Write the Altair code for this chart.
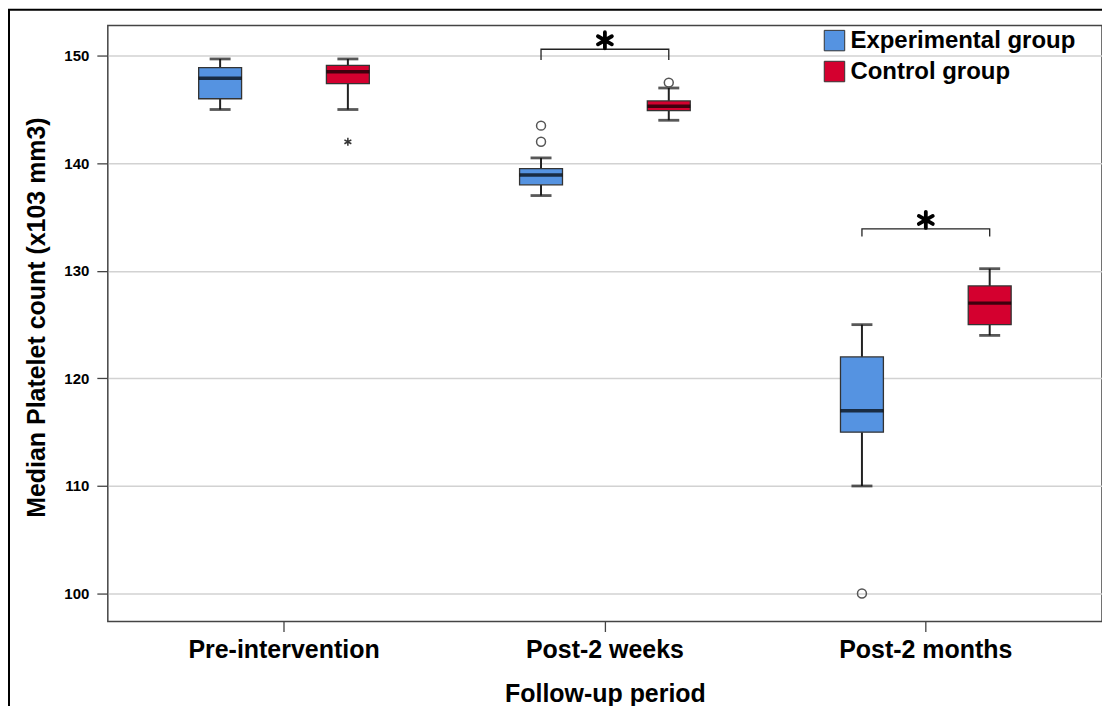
import altair as alt
import pandas as pd

FONT = "Liberation Sans, Arial, Helvetica, sans-serif"

periods = ["Pre-intervention", "Post-2 weeks", "Post-2 months"]
groups = ["Experimental group", "Control group"]
group_colors = ["#5593e1", "#d4002f"]

# box-plot summaries (x10^3 / mm3)
exp_lower = [145.0, 137.0, 110.0]
exp_q1 = [146.0, 138.0, 115.0]
exp_median = [147.9, 138.9, 117.0]
exp_q3 = [148.9, 139.5, 122.0]
exp_upper = [149.7, 140.5, 125.0]

ctl_lower = [145.0, 144.0, 124.0]
ctl_q1 = [147.4, 144.9, 125.0]
ctl_median = [148.5, 145.3, 127.0]
ctl_q3 = [149.1, 145.8, 128.6]
ctl_upper = [149.7, 147.0, 130.2]

# outliers (circles) and extremes (asterisks)
outlier_period = ["Post-2 weeks", "Post-2 weeks", "Post-2 weeks", "Post-2 months"]
outlier_group = ["Experimental group", "Experimental group", "Control group", "Experimental group"]
outlier_value = [143.5, 142.0, 147.5, 100.0]

extreme_period = ["Pre-intervention"]
extreme_group = ["Control group"]
extreme_value = [142.0]

# significance brackets
sig_period = ["Post-2 weeks", "Post-2 months"]
sig_top = [150.6, 133.9]
sig_bottom = [149.6, 133.2]

rows = []
for g, lo, q1, md, q3, up in [
    (groups[0], exp_lower, exp_q1, exp_median, exp_q3, exp_upper),
    (groups[1], ctl_lower, ctl_q1, ctl_median, ctl_q3, ctl_upper),
]:
    for i, p in enumerate(periods):
        rows.append(dict(period=p, group=g, lower=lo[i], q1=q1[i], median=md[i], q3=q3[i], upper=up[i]))
box_df = pd.DataFrame(rows)

out_df = pd.DataFrame(dict(period=outlier_period, group=outlier_group, value=outlier_value))
ext_df = pd.DataFrame(dict(period=extreme_period, group=extreme_group, value=extreme_value))

br_rows = []
for p, t, b in zip(sig_period, sig_top, sig_bottom):
    br_rows += [
        dict(period=p, group=groups[0], y=b, k=0),
        dict(period=p, group=groups[0], y=t, k=1),
        dict(period=p, group=groups[1], y=t, k=2),
        dict(period=p, group=groups[1], y=b, k=3),
    ]
br_df = pd.DataFrame(br_rows)
star_df = pd.DataFrame(dict(period=sig_period, y=sig_top))

X = alt.X(
    "period:N",
    sort=periods,
    scale=alt.Scale(domain=periods, paddingInner=0, paddingOuter=0.049),
    axis=alt.Axis(
        title="Follow-up period",
        labelAngle=0,
        labelFont=FONT,
        labelFontSize=25,
        labelFontWeight="bold",
        labelColor="black",
        labelLimit=0,
        labelPadding=6,
        tickSize=10,
        tickColor="#444",
        tickWidth=1.3,
        domain=False,
        grid=False,
        titleFont=FONT,
        titleFontSize=25,
        titleFontWeight="bold",
        titleColor="black",
        titleBaseline="alphabetic",
        titleY=80,
    ),
)
XO = alt.XOffset(
    "group:N", sort=groups, scale=alt.Scale(domain=groups, paddingInner=0, paddingOuter=0.256)
)
YS = alt.Scale(domain=[97.4, 152.8], nice=False, zero=False)
Y_AXIS = alt.Axis(
    title="Median Platelet count (x103 mm3)",
    values=[100, 110, 120, 130, 140, 150],
    labelFont=FONT,
    labelFontSize=15,
    labelFontWeight="bold",
    labelColor="black",
    labelPadding=8,
    tickSize=11,
    tickColor="#444",
    tickWidth=1.3,
    domain=False,
    grid=True,
    gridColor="#d2d2d2",
    gridWidth=1.5,
    titleFont=FONT,
    titleFontSize=25,
    titleFontWeight="bold",
    titleColor="black",
    titleAngle=-90,
    titleBaseline="alphabetic",
    titleAlign="center",
    titleX=-63,
    titleY=292,
)

base = alt.Chart(box_df)

frame = alt.Chart(pd.DataFrame({"a": [0]})).mark_rect(
    fill="transparent", stroke="black", strokeWidth=2
).encode(x=alt.value(-99), x2=alt.value(1200), y=alt.value(-16), y2=alt.value(800))

whisk_lo = base.mark_rule(color="#222", strokeWidth=2).encode(
    x=X, xOffset=XO, y=alt.Y("lower:Q", scale=YS, axis=Y_AXIS), y2="q1:Q"
)
whisk_hi = base.mark_rule(color="#222", strokeWidth=2).encode(
    x=X, xOffset=XO, y=alt.Y("q3:Q", scale=YS, axis=Y_AXIS), y2="upper:Q"
)
cap_lo = base.mark_tick(color="#111", size=21, thickness=2.8).encode(
    x=X, xOffset=XO, y=alt.Y("lower:Q", scale=YS, axis=Y_AXIS)
)
cap_hi = base.mark_tick(color="#111", size=21, thickness=2.8).encode(
    x=X, xOffset=XO, y=alt.Y("upper:Q", scale=YS, axis=Y_AXIS)
)
boxes = base.mark_bar(width=43, stroke="#333", strokeWidth=1.3, opacity=1).encode(
    x=X,
    xOffset=XO,
    y=alt.Y("q1:Q", scale=YS, axis=Y_AXIS),
    y2="q3:Q",
    color=alt.Color(
        "group:N",
        sort=groups,
        scale=alt.Scale(domain=groups, range=group_colors),
        legend=alt.Legend(
            title=None,
            orient="none",
            legendX=716,
            legendY=3,
            padding=0,
            symbolType="square",
            symbolSize=420,
            symbolStrokeColor="#333",
            symbolStrokeWidth=1,
            symbolOpacity=1,
            labelFont=FONT,
            labelFontSize=24,
            labelFontWeight="bold",
            labelColor="black",
            labelLimit=0,
            labelOffset=4,
            rowPadding=5,
        ),
    ),
)
medians = base.mark_tick(color="black", size=43, thickness=3.5).encode(
    x=X, xOffset=XO, y=alt.Y("median:Q", scale=YS, axis=Y_AXIS)
)
outliers = alt.Chart(out_df).mark_point(
    shape="circle", filled=False, size=80, color="#555", strokeWidth=1.5, opacity=1
).encode(x=X, xOffset=XO, y=alt.Y("value:Q", scale=YS, axis=Y_AXIS))

ASTER = "M0,-1L0,1M-0.866,-0.5L0.866,0.5M-0.866,0.5L0.866,-0.5"
extremes = alt.Chart(ext_df).mark_point(
    shape=ASTER, filled=False, size=64, color="#333", strokeWidth=1.5, opacity=1
).encode(x=X, xOffset=XO, y=alt.Y("value:Q", scale=YS, axis=Y_AXIS))

brackets = alt.Chart(br_df).mark_line(color="#222", strokeWidth=1.3).encode(
    x=X,
    xOffset=XO,
    y=alt.Y("y:Q", scale=YS, axis=Y_AXIS),
    order="k:Q",
    detail="period:N",
)
stars = alt.Chart(star_df).mark_point(
    shape=ASTER, filled=False, size=260, color="black", strokeWidth=3.8,
    strokeCap="round", opacity=1, yOffset=-9
).encode(x=X, y=alt.Y("y:Q", scale=YS, axis=Y_AXIS))

chart = (
    alt.layer(frame, whisk_lo, whisk_hi, cap_lo, cap_hi, boxes, medians,
              outliers, extremes, brackets, stars)
    .properties(
        width=996,
        height=597,
        autosize=alt.AutoSizeParams(type="none"),
        padding={"left": 100, "top": 17, "right": 0, "bottom": 84},
        background="white",
    )
    .configure_view(stroke="#444", strokeWidth=1.5)
)

chart.save("out.html", embed_options={"renderer": "svg", "actions": False})
